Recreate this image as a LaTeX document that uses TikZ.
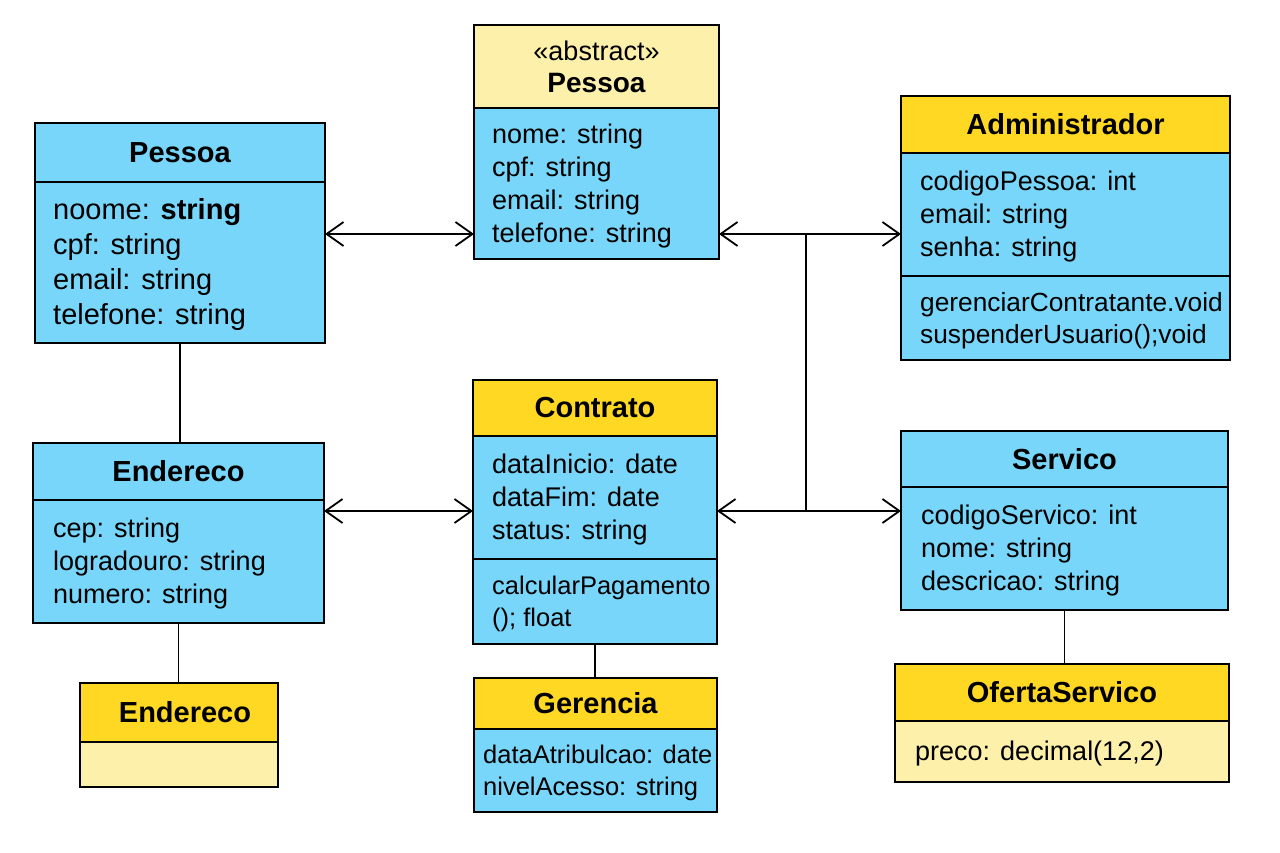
\documentclass[tikz,border=0pt]{standalone}
\usepackage{fontspec}
\setmainfont{Liberation Sans}
\usetikzlibrary{arrows.meta,calc}
\definecolor{cblue}{RGB}{120,214,250}
\definecolor{cgold}{RGB}{255,216,36}
\definecolor{clight}{RGB}{253,240,170}
\begin{document}
\begin{tikzpicture}[x=1pt,y=-1pt,
  box/.style={draw=black, line width=1.6pt, anchor=north west, inner sep=0pt, outer sep=0pt},
  ttl/.style={font=\fontsize{29}{33}\selectfont\bfseries},
  txt/.style={anchor=west, align=left, inner sep=0pt, yshift=-2.5pt, font=\fontsize{27}{33}\selectfont},
  conn/.style={line width=1.8pt},
  arr/.style={conn, -{Straight Barb[length=17pt,width=24pt]}},
  darr/.style={conn, {Straight Barb[length=17pt,width=24pt]}-{Straight Barb[length=17pt,width=24pt]}}
]
\useasboundingbox[fill=white] (0,0) rectangle (1280,853);

% Pessoa (left)
\node[box, fill=cblue, minimum width=290pt, minimum height=59pt, ttl] (pLh) at (35,123) {\raisebox{-3pt}{Pessoa}};
\node[box, fill=cblue, minimum width=290pt, minimum height=161pt] (pLb) at (pLh.south west) {};
\node[txt, font=\fontsize{29}{35}\selectfont] (pLt) at ([xshift=18pt]pLb.west) {noome: \textbf{string}\\cpf: string\\email: string\\telefone: string};

% Pessoa (abstract)
\node[box, fill=clight, minimum width=245pt, minimum height=83pt, align=center, font=\fontsize{27}{32}\selectfont] (pAh) at (474,25) {«abstract»\\{\fontsize{28}{32}\selectfont\bfseries Pessoa}};
\node[box, fill=cblue, minimum width=245pt, minimum height=151pt] (pAb) at (pAh.south west) {};
\node[txt] (pAt) at ([xshift=18pt]pAb.west) {nome: string\\cpf: string\\email: string\\telefone: string};

% Administrador
\node[box, fill=cgold, minimum width=329pt, minimum height=57pt, ttl] (admh) at (901,96) {Administrador};
\node[box, fill=cblue, minimum width=329pt, minimum height=123pt] (admb) at (admh.south west) {};
\node[box, fill=cblue, minimum width=329pt, minimum height=84pt] (admm) at (admb.south west) {};
\node[txt] (admt) at ([xshift=19pt]admb.west) {codigoPessoa: int\\email: string\\senha: string};
\node[txt, font=\fontsize{26.3}{32}\selectfont] (admmt) at ([xshift=19pt]admm.west) {gerenciarContratante.void\\suspenderUsuario();void};

% Contrato
\node[box, fill=cgold, minimum width=244pt, minimum height=56pt, ttl] (conh) at (473,380) {Contrato};
\node[box, fill=cblue, minimum width=244pt, minimum height=123pt] (conb) at (conh.south west) {};
\node[box, fill=cblue, minimum width=244pt, minimum height=85pt] (conm) at (conb.south west) {};
\node[txt] (cont) at ([xshift=19pt]conb.west) {dataInicio: date\\dataFim: date\\status: string};
\node[txt, font=\fontsize{25.5}{32}\selectfont] (conmt) at ([xshift=19pt]conm.west) {calcularPagamento\\(); float};

% Gerencia
\node[box, fill=cgold, minimum width=243pt, minimum height=51pt, ttl] (gerh) at (474,678) {Gerencia};
\node[box, fill=cblue, minimum width=243pt, minimum height=83pt] (gerb) at (gerh.south west) {};
\node[txt, font=\fontsize{25.5}{32}\selectfont] (gert) at ([xshift=9pt]gerb.west) {dataAtribulcao: date\\nivelAcesso: string};

% Endereco
\node[box, fill=cblue, minimum width=291pt, minimum height=57pt, ttl] (endh) at (33,443) {Endereco};
\node[box, fill=cblue, minimum width=291pt, minimum height=123pt] (endb) at (endh.south west) {};
\node[txt] (endt) at ([xshift=20pt]endb.west) {cep: string\\logradouro: string\\numero: string};

% Endereco (second)
\node[box, fill=cgold, minimum width=198pt, minimum height=59pt, ttl] (e2h) at (80,683) {\hspace*{12pt}\raisebox{-2pt}{Endereco}};
\node[box, fill=clight, minimum width=198pt, minimum height=45pt] (e2b) at (e2h.south west) {};

% Servico
\node[box, fill=cblue, minimum width=327pt, minimum height=56pt, ttl] (srvh) at (901,431) {Servico};
\node[box, fill=cblue, minimum width=327pt, minimum height=123pt] (srvb) at (srvh.south west) {};
\node[txt] (srvt) at ([xshift=20pt]srvb.west) {codigoServico: int\\nome: string\\descricao: string};

% OfertaServico
\node[box, fill=cgold, minimum width=334pt, minimum height=57pt, ttl] (ofeh) at (895,664) {OfertaServico};
\node[box, fill=clight, minimum width=334pt, minimum height=61pt] (ofeb) at (ofeh.south west) {};
\node[txt] (ofet) at ([xshift=20pt]ofeb.west) {preco: decimal(12,2)};

% junctions
\coordinate (j1) at (806,234);
\coordinate (j2) at (806,511);

% connectors
\draw[darr] (pLb.east |- j1) -- (pAb.west |- j1);
\draw[darr] (endb.east |- j2) -- (conb.west |- j2);
\draw[conn] (j1) -- (j2);
\draw[arr] (j1) -- (pAb.east |- j1);
\draw[arr] (j1) -- (admb.west |- j1);
\draw[arr] (j2) -- (conb.east |- j2);
\draw[arr] (j2) -- (srvb.west |- j2);
\draw[conn] (pLb.south) -- (pLb.south |- endh.north);
\draw[conn] (endb.south) -- (endb.south |- e2h.north);
\draw[conn] (conm.south) -- (conm.south |- gerh.north);
\draw[conn] (srvb.south) -- (srvb.south |- ofeh.north);
\end{tikzpicture}
\end{document}
